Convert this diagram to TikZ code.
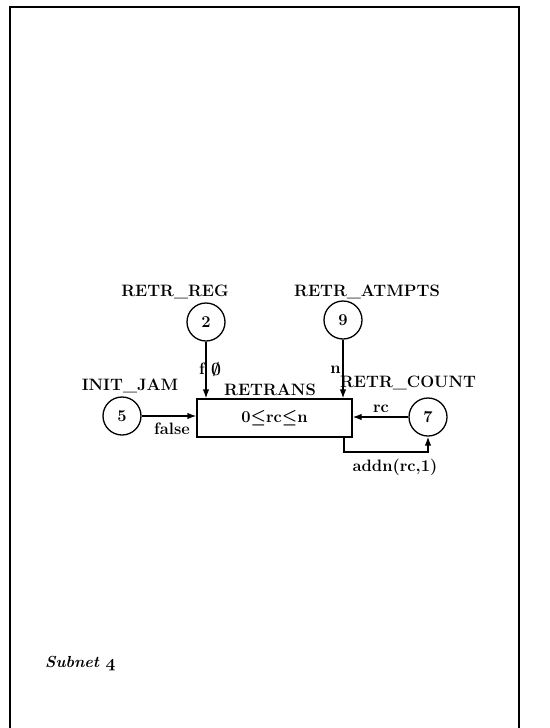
\documentclass[tikz,border=0pt]{standalone}
\usetikzlibrary{arrows.meta}
\newcommand{\bleq}{\mbox{\boldmath$\le$}}
\newcommand{\bempty}{\mbox{\boldmath$\emptyset$}}
\newcommand{\bfour}{\mbox{\boldmath$\mathnormal{4}$}}
\begin{document}
\begin{tikzpicture}[x=1pt,y=-1pt,
  bigfont/.style={font=\bfseries\fontsize{16.5}{19}\selectfont},
  place/.style={circle,draw,line width=1.3pt,minimum size=38pt,inner sep=0pt,bigfont},
  trans/.style={rectangle,draw,line width=1.3pt,minimum width=155pt,minimum height=38pt,inner sep=0pt,bigfont},
  lbl/.style={inner sep=0pt,bigfont},
  arc/.style={-{Latex[length=9pt,width=6.5pt]},line width=1.3pt}]
\useasboundingbox (0,0) rectangle (549,728);
\draw[line width=1.4pt] (10,728) -- (10,7) -- (519,7) -- (519,728);
% places
\node[place] (p2) at (206,322) {2};
\node[place] (p9) at (343,320) {9};
\node[place] (p5) at (122,416) {5};
\node[place] (p7) at (428,417) {7};
% transition
\node[trans] (t) at (274.5,418) {0\bleq rc\bleq n};
% names
\node[lbl] (n2) at (175,292) {RETR\_REG};
\node[lbl] (n9) at (367,292) {RETR\_ATMPTS};
\node[lbl] (n5) at (130,386) {INIT\_JAM};
\node[lbl] (n7) at (408,383) {RETR\_COUNT};
\node[lbl] (nt) at (270,390) {RETRANS};
% arcs
\draw[arc] (p2) -- (t.north -| p2);
\draw[arc] (p9) -- (t.north -| p9);
\draw[arc] (p5) -- (t.west |- p5);
\draw[arc] (p7) -- (t.east |- p7);
\coordinate (c1) at (344,452);
\draw[arc] (t.south -| c1) -- (c1) -| (p7.south);
% arc labels
\node[lbl,anchor=east] (lblf) at (205,369) {f};
\node[lbl,anchor=west] (lblempty) at (211,369) {\bempty};
\node[lbl,anchor=east] (lbln) at (341,370) {n};
\node[lbl] (lblfalse) at (172,429) {false};
\node[lbl] (lblrc) at (381,409) {rc};
\node[lbl] (lbladdn) at (395,467) {addn(rc,1)};
% caption
\node[lbl,anchor=base west,font=\bfseries\itshape\fontsize{16}{19}\selectfont] (cap) at (45,667) {Subnet \bfour};
\end{tikzpicture}
\end{document}
